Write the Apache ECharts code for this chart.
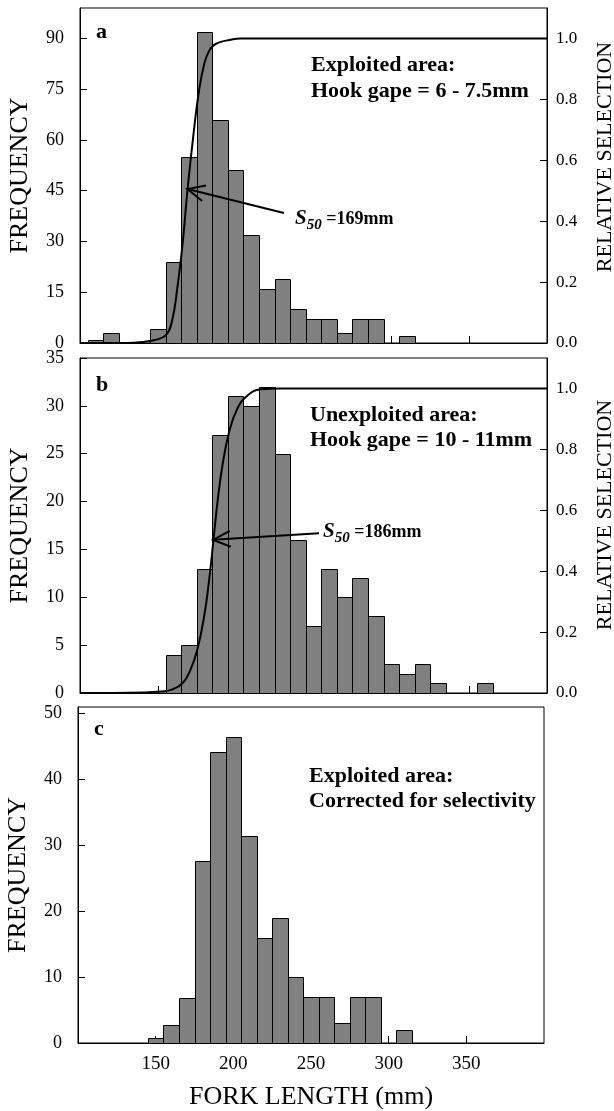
<!DOCTYPE html>
<html>
<head>
<meta charset="utf-8">
<script src="https://cdn.jsdelivr.net/npm/echarts@6/dist/echarts.min.js"></script>
<style>
html,body{margin:0;padding:0;background:#fff;}
#chart{width:614px;height:1111px;}
</style>
</head>
<body>
<div id="chart"></div>
<script>
// ---------------- DATA ----------------
// Panel a: exploited area, hook gape 6 - 7.5 mm (bin centres, 10 mm bins)
const binsA = [110, 120, 150, 160, 170, 180, 190, 200, 210, 220, 230, 240, 250, 260, 270, 280, 290, 310];
const freqA = [1, 3, 4, 24, 55, 92, 66, 51, 32, 16, 19, 10, 7, 7, 3, 7, 7, 2];
// Selection curve a (fork length mm, relative selection)
const selA_len = [100, 130, 140, 148, 155, 159, 162.5, 166, 169, 173, 176.5, 180, 183, 186, 190, 196, 203, 400];
const selA_val = [0, 0, 0.003, 0.01, 0.025, 0.07, 0.18, 0.33, 0.5, 0.69, 0.83, 0.92, 0.96, 0.978, 0.988, 0.995, 1.0, 1.0];

// Panel b: unexploited area, hook gape 10 - 11 mm
const binsB = [160, 170, 180, 190, 200, 210, 220, 230, 240, 250, 260, 270, 280, 290, 300, 310, 320, 330, 360];
const freqB = [4, 5, 13, 27, 31, 30, 32, 25, 16, 7, 13, 10, 12, 8, 3, 2, 3, 1, 1];
const selB_len = [100, 141, 152, 159, 166, 171, 175.4, 179.7, 183, 185.7, 188.3, 191.5, 195.8, 201, 207.6, 216, 229, 400];
const selB_val = [0, 0.002, 0.005, 0.011, 0.033, 0.077, 0.143, 0.25, 0.373, 0.5, 0.626, 0.747, 0.857, 0.933, 0.977, 0.997, 1.0, 1.0];

// Panel c: exploited area corrected for selectivity
const binsC = [150, 160, 170, 180, 190, 200, 210, 220, 230, 240, 250, 260, 270, 280, 290, 310];
const freqC = [0.7, 2.8, 6.9, 27.6, 44.1, 46.4, 31.4, 16, 18.9, 10, 7, 7, 3, 7, 7, 2];

// Annotation anchor points (data coordinates: fork length, frequency)
const arrowA = { tail: [231, 38.4], head: [169, 45.5] };
const arrowB = { tail: [253.5, 16.7], head: [185.5, 16.0] };

// ---------------- STYLE ----------------
const FONT = '"Liberation Serif", "Times New Roman", serif';
const BIN = 10;
const BAR_FILL = '#808080';

function zip(a, b) { return a.map((v, i) => [v, b[i]]); }

function renderBar(params, api) {
  const c = api.value(0), v = api.value(1);
  const p0 = api.coord([c - BIN / 2, v]);
  const p1 = api.coord([c + BIN / 2, 0]);
  const x0 = Math.round(p0[0]) + 0.5, x1 = Math.round(p1[0]) + 0.5;
  const y0 = Math.round(p0[1]) + 0.5, y1 = Math.round(p1[1]) + 0.5;
  return {
    type: 'rect',
    shape: { x: x0, y: y0, width: x1 - x0, height: y1 - y0 },
    style: { fill: BAR_FILL, stroke: '#000', lineWidth: 1 }
  };
}

const axisLineStyle = { show: true, lineStyle: { color: '#000', width: 1 } };
const tickStyle = { show: true, inside: true, length: 7, lineStyle: { color: '#000', width: 1 } };

function xAxisDef(gridIndex, withLabels) {
  const ax = {
    type: 'value', gridIndex: gridIndex, min: 100, max: 400, interval: 50,
    axisLine: axisLineStyle, axisTick: tickStyle, splitLine: { show: false },
    axisLabel: withLabels
      ? { show: true, margin: 12, showMinLabel: false, showMaxLabel: false, color: '#000', fontFamily: FONT, fontSize: 19 }
      : { show: false }
  };
  if (withLabels) {
    ax.name = 'FORK LENGTH (mm)';
    ax.nameLocation = 'middle';
    ax.nameGap = 41;
    ax.nameTextStyle = { color: '#000', fontFamily: FONT, fontSize: 26 };
  }
  return ax;
}

function leftAxis(gridIndex, max, interval, showMax) {
  return {
    type: 'value', gridIndex: gridIndex, position: 'left', min: 0, max: max, interval: interval,
    axisLine: axisLineStyle, axisTick: tickStyle, splitLine: { show: false },
    axisLabel: { margin: 16, showMaxLabel: showMax, color: '#000', fontFamily: FONT, fontSize: 18 },
    name: 'FREQUENCY', nameLocation: 'middle', nameGap: 47, nameRotate: 90,
    nameTextStyle: { color: '#000', fontFamily: FONT, fontSize: 26 }
  };
}

function rightAxis(gridIndex) {
  return {
    type: 'value', gridIndex: gridIndex, position: 'right', min: 0, max: 1.1, interval: 0.2,
    axisLine: axisLineStyle, axisTick: tickStyle, splitLine: { show: false },
    axisLabel: { margin: 9, showMaxLabel: false, formatter: v => v.toFixed(1), color: '#000', fontFamily: FONT, fontSize: 17 }
  };
}

const gridBase = { show: true, borderColor: '#000', borderWidth: 1, backgroundColor: 'transparent', containLabel: false, outerBoundsMode: 'none' };

const chart = echarts.init(document.getElementById('chart'), null, { renderer: 'canvas' });

chart.setOption({
  animation: false,
  backgroundColor: '#fff',
  textStyle: { fontFamily: FONT },
  grid: [
    Object.assign({ left: 80, top: 8, width: 467, height: 335 }, gridBase),
    Object.assign({ left: 80, top: 358, width: 467, height: 335 }, gridBase),
    Object.assign({ left: 78, top: 707, width: 466, height: 336 }, gridBase)
  ],
  xAxis: [xAxisDef(0, false), xAxisDef(1, false), xAxisDef(2, true)],
  yAxis: [
    leftAxis(0, 99, 15, false),
    rightAxis(0),
    leftAxis(1, 35, 5, true),
    rightAxis(1),
    leftAxis(2, 51, 10, false)
  ],
  series: [
    { type: 'custom', xAxisIndex: 0, yAxisIndex: 0, renderItem: renderBar, data: zip(binsA, freqA), z: 2 },
    { type: 'line', xAxisIndex: 0, yAxisIndex: 1, data: zip(selA_len, selA_val), showSymbol: false, symbol: 'none',
      smooth: 0.45, lineStyle: { color: '#000', width: 2 }, z: 5 },
    { type: 'custom', xAxisIndex: 1, yAxisIndex: 2, renderItem: renderBar, data: zip(binsB, freqB), z: 2 },
    { type: 'line', xAxisIndex: 1, yAxisIndex: 3, data: zip(selB_len, selB_val), showSymbol: false, symbol: 'none',
      smooth: 0.45, lineStyle: { color: '#000', width: 2 }, z: 5 },
    { type: 'custom', xAxisIndex: 2, yAxisIndex: 4, renderItem: renderBar, data: zip(binsC, freqC), z: 2 }
  ]
});

// ---------------- ANNOTATIONS ----------------
function arrowGraphics(xi, yi, a) {
  const t = chart.convertToPixel({ xAxisIndex: xi, yAxisIndex: yi }, a.tail);
  const h = chart.convertToPixel({ xAxisIndex: xi, yAxisIndex: yi }, a.head);
  const ang = Math.atan2(t[1] - h[1], t[0] - h[0]);
  const L = 19, A = 25 * Math.PI / 180;
  const p1 = [h[0] + L * Math.cos(ang + A), h[1] + L * Math.sin(ang + A)];
  const p2 = [h[0] + L * Math.cos(ang - A), h[1] + L * Math.sin(ang - A)];
  return [
    { type: 'polyline', z: 10, shape: { points: [t, h] }, style: { stroke: '#000', lineWidth: 2, fill: null } },
    { type: 'polyline', z: 10, shape: { points: [p1, h, p2] }, style: { stroke: '#000', lineWidth: 2, fill: null } }
  ];
}

function boldText(x, y, text, size) {
  return {
    type: 'text', z: 10, x: x, y: y,
    style: { text: text, fill: '#000', font: 'bold ' + size + 'px ' + FONT, align: 'left', verticalAlign: 'middle', lineHeight: 25.5 }
  };
}

function rightTitle(x, y) {
  return {
    type: 'text', z: 10, x: x, y: y, rotation: Math.PI / 2,
    style: { text: 'RELATIVE SELECTION', fill: '#000', font: '22px ' + FONT, align: 'center', verticalAlign: 'middle' }
  };
}

function s50Text(x, y, val) {
  return {
    type: 'text', z: 10, x: x, y: y,
    style: {
      text: '{s|S}{sub|50}{n| =' + val + 'mm}',
      fill: '#000', align: 'left', verticalAlign: 'middle',
      rich: {
        s: { fontFamily: FONT, fontSize: 21, fontStyle: 'italic', fontWeight: 'bold', lineHeight: 28, verticalAlign: 'middle', fill: '#000' },
        sub: { fontFamily: FONT, fontSize: 15, fontStyle: 'italic', fontWeight: 'bold', lineHeight: 28, verticalAlign: 'bottom', fill: '#000' },
        n: { fontFamily: FONT, fontSize: 18, fontWeight: 'bold', lineHeight: 28, verticalAlign: 'middle', fill: '#000' }
      }
    }
  };
}

const graphics = []
  .concat(arrowGraphics(0, 0, arrowA))
  .concat(arrowGraphics(1, 2, arrowB))
  .concat([
    boldText(96, 32, 'a', 22),
    boldText(96, 385, 'b', 22),
    boldText(94, 729, 'c', 22),
    boldText(311, 78.3, 'Exploited area:\nHook gape = 6 - 7.5mm', 22),
    boldText(310, 428, 'Unexploited area:\nHook gape = 10 - 11mm', 22),
    boldText(309, 789, 'Exploited area:\nCorrected for selectivity', 22),
    s50Text(295, 219, 169),
    s50Text(323, 532, 186),
    rightTitle(605, 157),
    rightTitle(605, 515)
  ]);

chart.setOption({ graphic: graphics });
</script>
</body>
</html>
